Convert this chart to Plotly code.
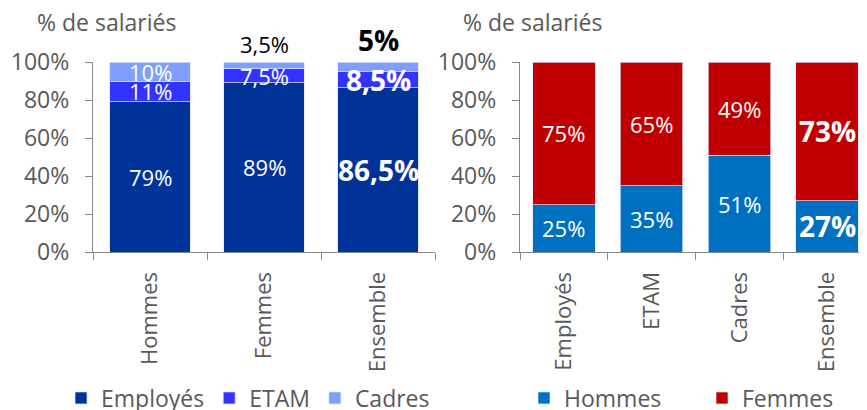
import plotly.graph_objects as go

# ---- data ----
left_categories = ["Hommes", "Femmes", "Ensemble"]
employes = [79, 89, 86.5]
etam = [11, 7.5, 8.5]
cadres = [10, 3.5, 5]

right_categories = ["Employés", "ETAM", "Cadres", "Ensemble"]
hommes = [25, 35, 51, 27]
femmes = [75, 65, 49, 73]

y_ticks = [0, 20, 40, 60, 80, 100]
y_tick_labels = ["0%", "20%", "40%", "60%", "80%", "100%"]
y_title = "% de salariés"

# ---- style ----
FONT = "Open Sans"
GREY = "#595959"
AXIS = "#868686"
C_EMP, C_ETAM, C_CAD = "#003399", "#3333FF", "#7F9FFF"
C_H, C_F = "#0070C0", "#C00000"
EDGE = dict(color="rgba(225,230,255,0.7)", width=1)
W, H = 867, 410
OFF = 8  # page body margin

def px_x(p):
    return (p - OFF) / W

def px_y(p):
    return 1 - (p - OFF) / H

fig = go.Figure()
fig.add_trace(go.Bar(x=left_categories, y=employes, name="Employés", marker_color=C_EMP,
                     marker_line=EDGE, xaxis="x", yaxis="y", legend="legend"))
fig.add_trace(go.Bar(x=left_categories, y=etam, name="ETAM", marker_color=C_ETAM,
                     marker_line=EDGE, xaxis="x", yaxis="y", legend="legend"))
fig.add_trace(go.Bar(x=left_categories, y=cadres, name="Cadres", marker_color=C_CAD,
                     marker_line=EDGE, xaxis="x", yaxis="y", legend="legend"))
fig.add_trace(go.Bar(x=right_categories, y=hommes, name="Hommes", marker_color=C_H,
                     marker_line=EDGE, xaxis="x2", yaxis="y2", legend="legend2"))
fig.add_trace(go.Bar(x=right_categories, y=femmes, name="Femmes", marker_color=C_F,
                     marker_line=EDGE, xaxis="x2", yaxis="y2", legend="legend2"))

def fmt(v):
    return f"{v:g}".replace(".", ",") + "%"

annotations = []

def seg_label(xref, yref, cat, base, val, bold, outside=False):
    size = 28 if bold else 22
    txt = f"<b>{fmt(val)}</b>" if bold else fmt(val)
    if outside:
        annotations.append(dict(x=cat, y=base + val, xref=xref, yref=yref, text=txt,
                                showarrow=False, yanchor="bottom", yshift=1,
                                font=dict(family=FONT, size=size, color="black")))
    else:
        annotations.append(dict(x=cat, y=base + val / 2, xref=xref, yref=yref, text=txt,
                                showarrow=False, yanchor="middle",
                                font=dict(family=FONT, size=size, color="white")))

for i, cat in enumerate(left_categories):
    bold = cat == "Ensemble"
    seg_label("x", "y", cat, 0, employes[i], bold)
    seg_label("x", "y", cat, employes[i], etam[i], bold)
    seg_label("x", "y", cat, employes[i] + etam[i], cadres[i], bold, outside=(cat != "Hommes"))

for i, cat in enumerate(right_categories):
    bold = cat == "Ensemble"
    seg_label("x2", "y2", cat, 0, hommes[i], bold)
    seg_label("x2", "y2", cat, hommes[i], femmes[i], bold)

for xpos in (35, 461):
    annotations.append(dict(x=px_x(xpos), y=px_y(22), xref="paper", yref="paper",
                            text=y_title, showarrow=False, xanchor="left", yanchor="middle",
                            font=dict(family=FONT, size=23, color=GREY)))

y_dom = [px_y(252), px_y(62)]

xaxis_common = dict(type="category", showline=True, linecolor=AXIS, linewidth=1.3,
                    ticks="outside", tickson="boundaries", ticklen=7, tickcolor=AXIS,
                    tickangle=-90, tickfont=dict(family=FONT, size=22, color=GREY),
                    ticklabelstandoff=10,
                    showgrid=False, zeroline=False, fixedrange=True, automargin=False)
yaxis_common = dict(range=[0, 100], tickmode="array", tickvals=y_ticks, ticktext=y_tick_labels,
                    showline=True, linecolor=AXIS, linewidth=1.3, ticks="outside", ticklen=7,
                    tickcolor=AXIS, tickfont=dict(family=FONT, size=23, color=GREY),
                    showgrid=False, zeroline=False, domain=y_dom, ticklabelstandoff=11,
                    automargin=False)

legend_common = dict(orientation="h", font=dict(family=FONT, size=23, color=GREY),
                     xanchor="left", yanchor="middle", y=px_y(398), bgcolor="rgba(0,0,0,0)",
                     traceorder="normal")

fig.update_layout(
    width=W, height=H,
    margin=dict(l=0, r=0, t=0, b=0, autoexpand=False),
    paper_bgcolor="white", plot_bgcolor="white",
    barmode="stack", bargap=0.29,
    xaxis=dict(domain=[px_x(93), px_x(435)], range=[-0.5, 2.5], anchor="y", **xaxis_common),
    yaxis=dict(anchor="x", **yaxis_common),
    xaxis2=dict(domain=[px_x(520), px_x(871)], range=[-0.5, 3.5], anchor="y2", **xaxis_common),
    yaxis2=dict(anchor="x2", **yaxis_common),
    legend=dict(x=px_x(61), **legend_common),
    legend2=dict(x=px_x(524), entrywidth=133, **legend_common),
    annotations=annotations,
    showlegend=True,
)

fig.write_html("out.html")
